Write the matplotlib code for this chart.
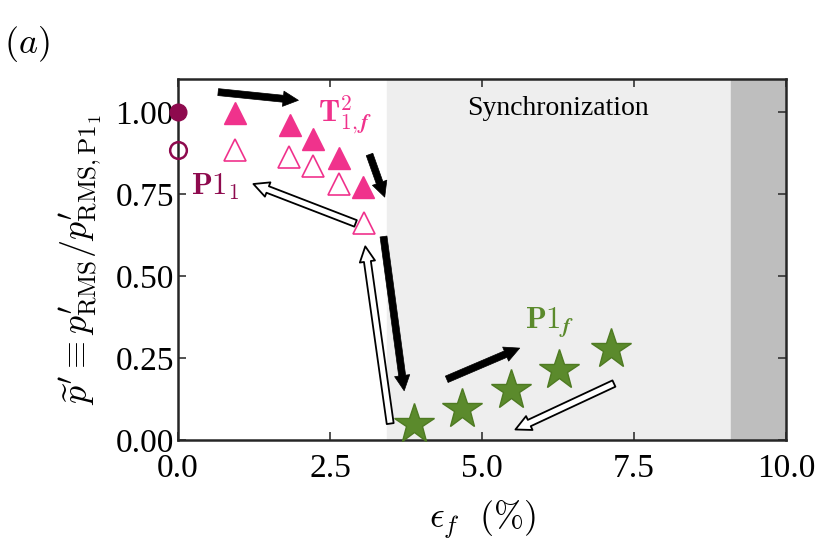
import matplotlib
matplotlib.use("Agg")
import matplotlib.pyplot as plt

plt.rcParams['font.family'] = ['Liberation Serif', 'DejaVu Serif']
plt.rcParams['mathtext.fontset'] = 'cm'

# data
p1_filled_x = [0.0]
p1_filled_y = [1.0]
p1_open_x = [0.0]
p1_open_y = [0.883]

t_filled_x = [0.94, 1.84, 2.22, 2.64, 3.05]
t_filled_y = [0.995, 0.960, 0.918, 0.860, 0.772]
t_open_x = [0.94, 1.82, 2.22, 2.64, 3.06]
t_open_y = [0.885, 0.862, 0.835, 0.780, 0.660]

star_x = [3.88, 4.67, 5.47, 6.26, 7.12]
star_y = [0.050, 0.094, 0.152, 0.213, 0.277]

sync_start = 3.43
dark_start = 9.09

maroon = '#8E0A4E'
pink = '#F0328C'
green = '#5B8A2C'

fig = plt.figure(figsize=(8.25, 5.5), dpi=100)
ax = fig.add_axes([0.2158, 0.2, 0.7369, 0.6564])

ax.axvspan(sync_start, dark_start, color='#EEEEEE', zorder=0)
ax.axvspan(dark_start, 10, color='#BEBEBE', zorder=0)

ax.plot(p1_filled_x, p1_filled_y, 'o', color=maroon, ms=12, clip_on=False, zorder=5)
ax.plot(p1_open_x, p1_open_y, 'o', mfc='none', mec=maroon, mew=1.8, ms=12, clip_on=False, zorder=5)
ax.plot(t_filled_x, t_filled_y, '^', color=pink, ms=16, zorder=4)
ax.plot(t_open_x, t_open_y, '^', mfc='white', mec=pink, mew=1.2, ms=16, zorder=4)
ax.plot(star_x, star_y, '*', color=green, mec='#4E7A22', mew=1.0, ms=30, clip_on=False, zorder=4)

arrow_style = 'simple,head_length=1.1,head_width=1.1,tail_width=0.5'

# black arrows
black_arrows = [((0.66, 1.06), (1.98, 1.035)),
                ((3.15, 0.87), (3.40, 0.74)),
                ((3.38, 0.62), (3.72, 0.15)),
                ((4.42, 0.185), (5.62, 0.28))]
for (x0, y0), (x1, y1) in black_arrows:
    ax.annotate('', xy=(x1, y1), xytext=(x0, y0),
                arrowprops=dict(arrowstyle=arrow_style, fc='black', ec='black', lw=0.5,
                                shrinkA=0, shrinkB=0), zorder=6)

# open arrows
open_arrows = [((7.17, 0.172), (5.55, 0.032)),
               ((3.49, 0.05), (3.08, 0.59)),
               ((2.92, 0.66), (1.24, 0.78))]
for (x0, y0), (x1, y1) in open_arrows:
    ax.annotate('', xy=(x1, y1), xytext=(x0, y0),
                arrowprops=dict(arrowstyle=arrow_style, fc='white', ec='black', lw=1.3,
                                shrinkA=0, shrinkB=0), zorder=6)

ax.text(0.22, 0.77, r'$\mathbf{P1}_{\mathbf{1}}$', color=maroon, fontsize=22, ha='left', va='center')
ax.text(2.30, 0.99, r'$\mathbf{T}^{\mathbf{2}}_{\mathbf{1,}\boldsymbol{f}}$', color=pink, fontsize=22,
        ha='left', va='center')
ax.text(5.70, 0.36, r'$\mathbf{P1}_{\boldsymbol{f}}$', color=green, fontsize=22, ha='left', va='center')
ax.text(6.25, 1.01, 'Synchronization', fontsize=20, ha='center', va='center')

ax.set_xlim(0, 10)
ax.set_ylim(0, 1.1)
ax.set_xticks([0, 2.5, 5, 7.5, 10])
ax.set_xticklabels(['0.0', '2.5', '5.0', '7.5', '10.0'])
ax.set_yticks([0, 0.25, 0.5, 0.75, 1.0])
ax.set_yticklabels(['0.00', '0.25', '0.50', '0.75', '1.00'])
ax.tick_params(direction='in', top=True, right=True, labelsize=24, length=6, width=1.2,
               color='#333333')
ax.tick_params(axis='x', pad=10)
ax.tick_params(axis='y', pad=3)
for s in ax.spines.values():
    s.set_linewidth(1.8)
    s.set_color('#262626')

ax.set_xlabel(r'$\epsilon_f\ \ (\%)$', fontsize=26, labelpad=10)
ax.set_ylabel(r"$\widetilde{p}^{\prime} \equiv p^{\prime}_{\mathrm{RMS}}/p^{\prime}_{\mathrm{RMS,P1_1}}$",
              fontsize=26, labelpad=8)

fig.text(0.005, 0.92, r'$(a)$', fontsize=26, ha='left', va='center')

fig.savefig('out.png', dpi=100)
